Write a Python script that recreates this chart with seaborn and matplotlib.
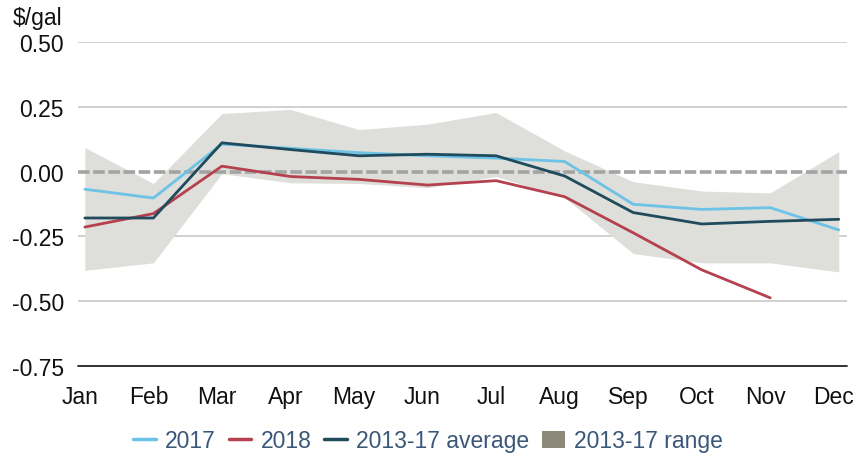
import numpy as np
import pandas as pd
import matplotlib
matplotlib.use("Agg")
import matplotlib.pyplot as plt
import matplotlib.transforms as mtransforms
from matplotlib.lines import Line2D
from matplotlib.patches import Patch
import seaborn as sns

# ---------- data ----------
months = ["Jan", "Feb", "Mar", "Apr", "May", "Jun",
          "Jul", "Aug", "Sep", "Oct", "Nov", "Dec"]
y2017 = [-0.068, -0.102, 0.106, 0.090, 0.073, 0.061,
         0.052, 0.039, -0.126, -0.146, -0.139, -0.225]
y2018 = [-0.214, -0.162, 0.021, -0.019, -0.030, -0.052,
         -0.035, -0.097, -0.236, -0.379, -0.487, np.nan]
avg_13_17 = [-0.179, -0.179, 0.111, 0.085, 0.061, 0.067,
             0.061, -0.017, -0.158, -0.202, -0.192, -0.184]
range_hi = [0.093, -0.046, 0.224, 0.240, 0.162, 0.183,
            0.228, 0.080, -0.039, -0.075, -0.082, 0.077]
range_lo = [-0.381, -0.352, -0.008, -0.043, -0.046, -0.062,
            -0.019, -0.100, -0.316, -0.352, -0.352, -0.387]
y_ticks = [0.50, 0.25, 0.00, -0.25, -0.50, -0.75]

# ---------- styling ----------
c2017 = "#6cc3e6"
c2018 = "#b5414f"
cavg = "#1f4b5c"
crange = "#dededa"
crange_legend = "#8d897a"
legend_text = "#3a5779"

sns.set_theme(style="white")
plt.rcParams["font.family"] = ["Liberation Sans", "DejaVu Sans"]
fsize = 16.5

x = np.arange(len(months))
df = pd.DataFrame({
    "month": np.tile(x, 3),
    "value": y2017 + y2018 + avg_13_17,
    "series": ["2017"] * 12 + ["2018"] * 12 + ["2013-17 average"] * 12,
})
palette = {"2017": c2017, "2018": c2018, "2013-17 average": cavg}

fig = plt.figure(figsize=(8.55, 4.56), dpi=100)
ax = fig.add_axes([78 / 855, 1 - 367 / 456, (847 - 78) / 855, (367 - 43) / 456])

ax.fill_between(x, range_lo, range_hi, color=crange, lw=0, zorder=1)

# grid lines
for t in y_ticks:
    if t == 0:
        ax.axhline(0, color="#a3a3a3", lw=2.6, ls=(0, (3.2, 1.0)), zorder=2)
    elif t == -0.75:
        ax.axhline(t, color="#222222", lw=1.3, zorder=2, clip_on=False)
    else:
        ax.axhline(t, color="#c9c9c9", lw=1.2, zorder=0.5)

sns.lineplot(data=df, x="month", y="value", hue="series", palette=palette,
             hue_order=["2017", "2018", "2013-17 average"],
             linewidth=2.0, ax=ax, legend=False, zorder=3)

ax.set_xlim(-0.1, 11.12)
ax.set_ylim(-0.75, 0.5)
ax.set_yticks(y_ticks)
ax.set_yticklabels([f"{t:.2f}" for t in y_ticks], fontsize=fsize, color="#111111")
ax.set_xticks(x)
ax.set_xticklabels(months, fontsize=fsize, color="#111111")
ax.tick_params(axis="both", length=0)
ax.tick_params(axis="y", pad=10)
ax.tick_params(axis="x", pad=14)
offset = mtransforms.ScaledTranslation(-5 / 100, 0, fig.dpi_scale_trans)
for lab in ax.get_xticklabels():
    lab.set_transform(lab.get_transform() + offset)
ax.set_xlabel("")
ax.set_ylabel("")
for s in ax.spines.values():
    s.set_visible(False)

fig.text(13 / 855, 1 - 19 / 456, "$/gal", fontsize=fsize, color="#111111",
         ha="left", va="center")

handles = [
    Line2D([], [], color=c2017, lw=2.5),
    Line2D([], [], color=c2018, lw=2.5),
    Line2D([], [], color=cavg, lw=2.5),
    Patch(facecolor=crange_legend, edgecolor="none"),
]
labels = ["2017", "2018", "2013-17 average", "2013-17 range"]
fig.legend(handles, labels, loc="center", bbox_to_anchor=(428 / 855, 1 - 442 / 456),
           ncol=4, frameon=False, fontsize=fsize, labelcolor=legend_text,
           handlelength=1.0, handleheight=0.7, handletextpad=0.4,
           columnspacing=0.55, borderpad=0)

fig.savefig("out.png", dpi=100)
